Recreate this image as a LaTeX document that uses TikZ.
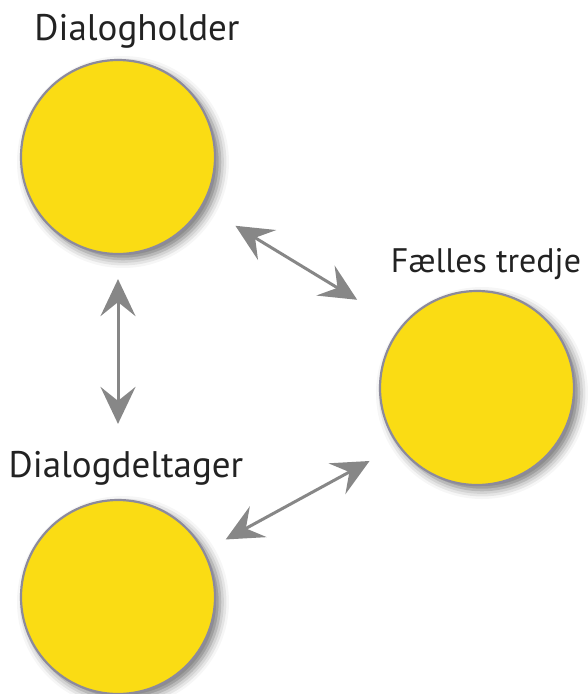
\documentclass[tikz,border=0pt]{standalone}
\usepackage{fontspec}
\setmainfont{PT Sans}
\usetikzlibrary{arrows.meta,shadows.blur}
\definecolor{disc}{HTML}{FADC14}
\definecolor{rim}{HTML}{8C8A9C}
\definecolor{arrowgray}{HTML}{878787}
\definecolor{labelcol}{HTML}{222222}
\tikzset{
  disc/.style={circle, minimum size=194pt, inner sep=0pt, fill=disc, draw=rim, line width=2.2pt,
    blur shadow={shadow xshift=5pt, shadow yshift=-5pt, shadow blur radius=9pt, shadow opacity=55}},
  lbl/.style={anchor=base, text=labelcol, font=\fontsize{37}{44}\selectfont},
  link/.style={arrowgray, line width=3pt, {Stealth[length=37pt,width=35pt,inset=14pt]}-{Stealth[length=37pt,width=35pt,inset=14pt]}}
}
\begin{document}
\begin{tikzpicture}[x=1pt,y=-1pt]
\useasboundingbox (0,0) rectangle (587,694);
\node[disc] (holder) at (118,157) {};
\node[disc] (third) at (477,388) {};
\node[disc] (taker) at (118,597) {};
\node[lbl] (lholder) at (137,40) {Dialogholder};
\node[lbl, font=\fontsize{34}{40}\selectfont] (lthird) at (486,272) {Fælles tredje};
\node[lbl] (ltaker) at (126,477) {Dialogdeltager};
\draw[link, shorten <=38pt, shorten >=51pt] (holder.-30) -- (third.141);
\draw[link, shorten <=24pt, shorten >=75pt] (holder.-90) -- (taker.90);
\draw[link, shorten <=32pt, shorten >=24pt] (third.216) -- (taker.28);
\end{tikzpicture}
\end{document}
